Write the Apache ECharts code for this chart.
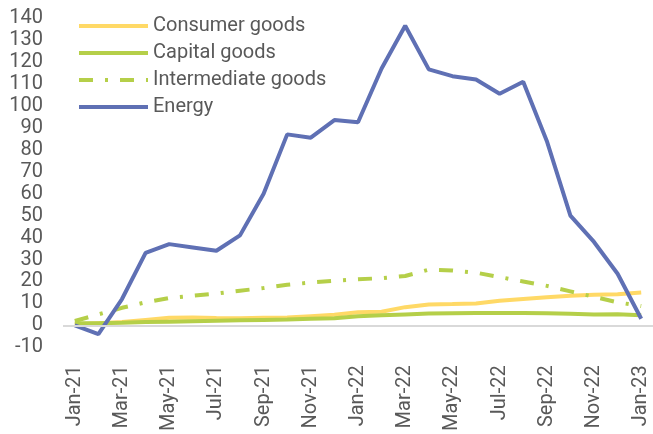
<!DOCTYPE html>
<html><head><meta charset="utf-8">
<script src="https://cdn.jsdelivr.net/npm/echarts@6/dist/echarts.min.js"></script>
<style>html,body{margin:0;padding:0;background:#fff}#c{width:653px;height:434px}</style>
</head><body><div id="c"></div>
<script>
const categories = ["Jan-21","Feb-21","Mar-21","Apr-21","May-21","Jun-21","Jul-21","Aug-21","Sep-21","Oct-21","Nov-21","Dec-21",
  "Jan-22","Feb-22","Mar-22","Apr-22","May-22","Jun-22","Jul-22","Aug-22","Sep-22","Oct-22","Nov-22","Dec-22","Jan-23"];
const consumerGoods = [0.5,1,1.5,2.5,3.5,3.6,3.4,3.3,3.5,3.6,4.2,4.8,6,6.2,8.3,9.5,9.7,10,11.2,12,12.8,13.5,13.9,14.2,15];
const capitalGoods = [1,1,1.2,1.5,1.7,1.9,2.1,2.3,2.5,2.7,3,3.3,4.2,4.6,5,5.4,5.5,5.6,5.6,5.6,5.5,5.3,5,5.1,4.6];
const intermediateGoods = [2,5,8,10.5,12.5,13.5,14.5,15.8,17,18.5,19.5,20.3,21,21.5,22.5,25.4,25,24,22,20,18,15.5,13,10.5,8.8];
const energy = [0,-4,12,33,37,35.5,34,41,60,87,85.5,93.5,92.5,117,136.5,116.6,113.5,112,105.5,111,84,50,38,23.5,3];
const yTicks = {min:-10, max:140, interval:10};

const chart = echarts.init(document.getElementById('c'));
const font = 'Roboto';
const txt = '#595959';
chart.setOption({
  animation:false,
  grid:{left:63, right:-4, top:18, bottom:79},
  legend:{
    orient:'vertical', left:77, top:16, padding:0, itemWidth:69, itemHeight:14, itemGap:7,
    itemStyle:{opacity:0},
    lineStyle:{width:4},
    textStyle:{fontFamily:font, fontSize:20, color:txt, lineHeight:20},
    data:['Consumer goods','Capital goods','Intermediate goods','Energy']
  },
  xAxis:{
    type:'category', data:categories, boundaryGap:true,
    axisLine:{show:false}, axisTick:{show:false},
    axisLabel:{rotate:90, interval:1, fontFamily:font, fontSize:20, color:txt, margin:18}
  },
  yAxis:{
    type:'value', min:yTicks.min, max:yTicks.max, interval:yTicks.interval,
    axisLine:{show:false}, axisTick:{show:false}, splitLine:{show:false},
    axisLabel:{fontFamily:font, fontSize:20, color:txt, margin:20}
  },
  series:[
    {name:'Consumer goods', type:'line', data:consumerGoods, symbol:'none',
     lineStyle:{color:'#FFD966', width:4}, itemStyle:{color:'#FFD966'},
     markLine:{silent:true, symbol:'none', label:{show:false}, lineStyle:{color:'#D9D9D9', width:2, type:'solid'}, data:[{yAxis:0}]}},
    {name:'Capital goods', type:'line', data:capitalGoods, symbol:'none',
     lineStyle:{color:'#B5CF49', width:4}, itemStyle:{color:'#B5CF49'}},
    {name:'Intermediate goods', type:'line', data:intermediateGoods, symbol:'none',
     lineStyle:{color:'#B5CF49', width:4, type:[14,12,3,12]}, itemStyle:{color:'#B5CF49'}},
    {name:'Energy', type:'line', data:energy, symbol:'none',
     lineStyle:{color:'#5F70B4', width:4}, itemStyle:{color:'#5F70B4'}}
  ]
});
</script></body></html>
